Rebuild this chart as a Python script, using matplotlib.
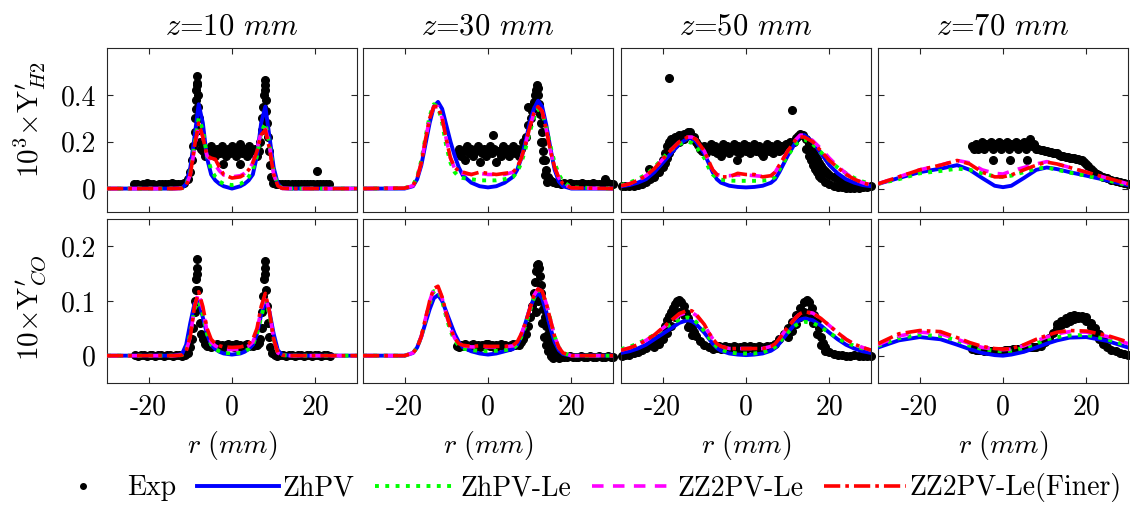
import matplotlib
matplotlib.use("Agg")
import matplotlib.pyplot as plt
from matplotlib.lines import Line2D

plt.rcParams['font.family'] = 'serif'
plt.rcParams['font.serif'] = ['cmr10']
plt.rcParams['mathtext.fontset'] = 'cm'
plt.rcParams['axes.unicode_minus'] = False

# radial grids used by the model curves (mm)
r_z10 = [-30, -14, -12, -11, -10, -9, -8, -7, -6, -5, -4, -3, -2, 0, 2, 3, 4, 5, 6, 7, 8, 9, 10, 11, 12, 14, 30]
r_z30 = [-30, -20, -18, -17, -16, -15, -14, -13, -12, -11, -10, -9, -8, -7, -6, -4, -2, 0, 2, 4, 6, 7, 8, 9, 10,
         11, 12, 13, 14, 15, 16, 17, 18, 20, 30]
r_z50 = [-30, -28, -26, -24, -22, -20, -18, -16, -14, -13, -12, -10, -9, -8, -7, -6, -4, -2, 0, 2, 4, 6, 7, 8, 10,
         12, 13, 14, 16, 18, 20, 22, 24, 26, 28, 30]
r_z70 = [-30, -25, -20, -15, -11, -8, -5, -2, 0, 2, 5, 8, 10.5, 13, 16, 20, 25, 30]

# 10^3 x Y'_H2
h2_z10_zhpv = [0, 0, 0.002, 0.02, 0.09, 0.22, 0.36, 0.28, 0.13, 0.06, 0.035, 0.02, 0.01, 0.0, 0.01, 0.02, 0.035, 0.06,
               0.14, 0.28, 0.35, 0.22, 0.09, 0.02, 0.002, 0, 0]
h2_z10_zhpvle = [0, 0, 0.002, 0.015, 0.07, 0.19, 0.30, 0.25, 0.14, 0.08, 0.05, 0.03, 0.02, 0.015, 0.02, 0.03, 0.05,
                 0.08, 0.14, 0.24, 0.28, 0.19, 0.07, 0.015, 0.002, 0, 0]
h2_z10_zz2 = [0, 0, 0.001, 0.012, 0.06, 0.17, 0.27, 0.22, 0.14, 0.12, 0.10, 0.075, 0.058, 0.05, 0.055, 0.065, 0.08,
              0.11, 0.17, 0.24, 0.26, 0.18, 0.06, 0.012, 0.001, 0, 0]
h2_z10_zz2f = [0, 0, 0.001, 0.012, 0.06, 0.18, 0.28, 0.22, 0.14, 0.13, 0.125, 0.09, 0.06, 0.045, 0.05, 0.06, 0.08,
               0.11, 0.16, 0.23, 0.25, 0.17, 0.06, 0.012, 0.001, 0, 0]

h2_z30_zhpv = [0, 0, 0.01, 0.04, 0.10, 0.19, 0.28, 0.35, 0.37, 0.34, 0.27, 0.20, 0.14, 0.09, 0.055, 0.025, 0.01, 0.005,
               0.01, 0.025, 0.05, 0.08, 0.13, 0.20, 0.28, 0.34, 0.375, 0.35, 0.27, 0.17, 0.08, 0.03, 0.01, 0, 0]
h2_z30_zhpvle = [0, 0.002, 0.015, 0.05, 0.12, 0.22, 0.31, 0.36, 0.35, 0.28, 0.18, 0.11, 0.07, 0.05, 0.045, 0.04, 0.035,
                 0.035, 0.035, 0.04, 0.05, 0.07, 0.11, 0.17, 0.24, 0.30, 0.34, 0.32, 0.26, 0.18, 0.11, 0.06, 0.03,
                 0.005, 0]
h2_z30_zz2 = [0, 0.002, 0.012, 0.045, 0.11, 0.21, 0.30, 0.35, 0.35, 0.30, 0.21, 0.13, 0.085, 0.07, 0.065, 0.06, 0.065,
              0.06, 0.06, 0.06, 0.07, 0.09, 0.13, 0.19, 0.26, 0.32, 0.35, 0.33, 0.25, 0.16, 0.09, 0.045, 0.02, 0.003, 0]
h2_z30_zz2f = [0, 0.002, 0.012, 0.045, 0.11, 0.21, 0.30, 0.35, 0.35, 0.30, 0.21, 0.13, 0.09, 0.075, 0.07, 0.06, 0.07,
               0.065, 0.06, 0.065, 0.07, 0.09, 0.13, 0.19, 0.26, 0.32, 0.35, 0.33, 0.25, 0.16, 0.09, 0.045, 0.02,
               0.003, 0]

h2_z50_zhpv = [0.01, 0.015, 0.025, 0.04, 0.07, 0.11, 0.15, 0.19, 0.214, 0.214, 0.2, 0.15, 0.11, 0.07, 0.04, 0.025,
               0.012, 0.007, 0.005, 0.007, 0.012, 0.025, 0.04, 0.07, 0.14, 0.2, 0.225, 0.228, 0.2, 0.15, 0.1, 0.065,
               0.04, 0.025, 0.015, 0.01]
h2_z50_zhpvle = [0.015, 0.025, 0.04, 0.06, 0.09, 0.13, 0.165, 0.19, 0.2, 0.195, 0.18, 0.13, 0.09, 0.06, 0.045, 0.038,
                 0.034, 0.033, 0.033, 0.033, 0.034, 0.038, 0.05, 0.08, 0.14, 0.19, 0.205, 0.21, 0.19, 0.155, 0.12,
                 0.09, 0.065, 0.045, 0.03, 0.02]
h2_z50_zz2 = [0.012, 0.02, 0.035, 0.055, 0.085, 0.125, 0.165, 0.2, 0.22, 0.22, 0.21, 0.16, 0.12, 0.08, 0.06, 0.055,
              0.055, 0.058, 0.058, 0.055, 0.052, 0.055, 0.07, 0.1, 0.16, 0.21, 0.228, 0.228, 0.205, 0.17, 0.13, 0.095,
              0.065, 0.04, 0.025, 0.015]
h2_z50_zz2f = [0.012, 0.02, 0.035, 0.055, 0.085, 0.125, 0.165, 0.2, 0.22, 0.22, 0.21, 0.16, 0.12, 0.08, 0.06, 0.05,
               0.05, 0.065, 0.06, 0.06, 0.05, 0.055, 0.07, 0.1, 0.16, 0.21, 0.22, 0.22, 0.2, 0.16, 0.12, 0.09, 0.06,
               0.04, 0.025, 0.015]

h2_z70_zhpv = [0.02, 0.045, 0.07, 0.085, 0.1, 0.08, 0.045, 0.012, 0.006, 0.012, 0.045, 0.08, 0.09, 0.083, 0.07, 0.055,
               0.035, 0.015]
h2_z70_zhpvle = [0.02, 0.04, 0.065, 0.075, 0.085, 0.08, 0.065, 0.052, 0.05, 0.055, 0.07, 0.085, 0.09, 0.08, 0.068,
                 0.055, 0.035, 0.015]
h2_z70_zz2 = [0.02, 0.05, 0.08, 0.1, 0.12, 0.11, 0.08, 0.065, 0.062, 0.075, 0.09, 0.105, 0.115, 0.105, 0.09, 0.07,
              0.045, 0.02]
h2_z70_zz2f = [0.02, 0.05, 0.08, 0.1, 0.12, 0.105, 0.07, 0.05, 0.05, 0.058, 0.08, 0.1, 0.113, 0.105, 0.09, 0.07,
               0.045, 0.02]

# 10 x Y'_CO
co_z10_zhpv = [0, 0, 0.003, 0.02, 0.06, 0.095, 0.10, 0.07, 0.04, 0.02, 0.012, 0.007, 0.004, 0.002, 0.004, 0.007,
               0.012, 0.02, 0.04, 0.075, 0.10, 0.08, 0.04, 0.01, 0.002, 0, 0]
co_z10_zhpvle = [0, 0, 0.001, 0.01, 0.04, 0.085, 0.10, 0.075, 0.04, 0.02, 0.012, 0.008, 0.005, 0.004, 0.005, 0.008,
                 0.012, 0.02, 0.04, 0.07, 0.10, 0.075, 0.03, 0.005, 0.001, 0, 0]
co_z10_zz2 = [0, 0, 0.001, 0.008, 0.035, 0.09, 0.115, 0.085, 0.045, 0.025, 0.018, 0.014, 0.012, 0.011, 0.012, 0.014,
              0.018, 0.025, 0.045, 0.085, 0.11, 0.08, 0.03, 0.005, 0.001, 0, 0]
co_z10_zz2f = [0, 0, 0.001, 0.008, 0.035, 0.09, 0.117, 0.09, 0.05, 0.03, 0.022, 0.018, 0.016, 0.015, 0.016, 0.018,
               0.022, 0.03, 0.05, 0.09, 0.114, 0.08, 0.03, 0.005, 0.001, 0, 0]

co_z30_zhpv = [0, 0, 0.005, 0.015, 0.035, 0.06, 0.085, 0.105, 0.111, 0.10, 0.08, 0.06, 0.04, 0.025, 0.015, 0.008,
               0.004, 0.002, 0.004, 0.008, 0.012, 0.02, 0.035, 0.06, 0.085, 0.105, 0.115, 0.105, 0.08, 0.05, 0.025,
               0.01, 0.003, 0, 0]
co_z30_zhpvle = [0, 0, 0.005, 0.015, 0.035, 0.065, 0.095, 0.118, 0.12, 0.10, 0.07, 0.045, 0.028, 0.018, 0.013, 0.01,
                 0.009, 0.008, 0.009, 0.01, 0.013, 0.02, 0.035, 0.055, 0.08, 0.105, 0.12, 0.115, 0.095, 0.065, 0.035,
                 0.015, 0.005, 0, 0]
co_z30_zz2 = [0, 0, 0.005, 0.015, 0.035, 0.068, 0.1, 0.122, 0.125, 0.105, 0.075, 0.05, 0.032, 0.022, 0.018, 0.016,
              0.016, 0.016, 0.016, 0.016, 0.018, 0.024, 0.04, 0.06, 0.085, 0.11, 0.122, 0.118, 0.095, 0.065, 0.035,
              0.015, 0.005, 0, 0]
co_z30_zz2f = [0, 0, 0.005, 0.015, 0.035, 0.068, 0.1, 0.123, 0.127, 0.107, 0.077, 0.05, 0.032, 0.022, 0.019, 0.017,
               0.018, 0.017, 0.017, 0.017, 0.019, 0.025, 0.04, 0.06, 0.085, 0.11, 0.122, 0.118, 0.095, 0.065, 0.035,
               0.015, 0.005, 0, 0]

co_z50_zhpv = [0.005, 0.008, 0.013, 0.02, 0.03, 0.04, 0.05, 0.06, 0.065, 0.063, 0.058, 0.042, 0.032, 0.022, 0.014,
               0.009, 0.004, 0.002, 0.001, 0.002, 0.004, 0.009, 0.014, 0.022, 0.042, 0.06, 0.066, 0.068, 0.065, 0.055,
               0.042, 0.03, 0.02, 0.013, 0.008, 0.005]
co_z50_zhpvle = [0.012, 0.016, 0.022, 0.03, 0.038, 0.048, 0.058, 0.066, 0.07, 0.068, 0.062, 0.045, 0.034, 0.024,
                 0.016, 0.011, 0.006, 0.004, 0.004, 0.004, 0.006, 0.011, 0.016, 0.024, 0.042, 0.056, 0.06, 0.062,
                 0.06, 0.052, 0.042, 0.032, 0.024, 0.018, 0.013, 0.01]
co_z50_zz2 = [0.01, 0.014, 0.02, 0.028, 0.038, 0.05, 0.062, 0.074, 0.08, 0.079, 0.074, 0.056, 0.043, 0.031, 0.022,
              0.017, 0.013, 0.013, 0.013, 0.013, 0.013, 0.017, 0.022, 0.031, 0.052, 0.07, 0.077, 0.08, 0.078, 0.068,
              0.055, 0.042, 0.03, 0.021, 0.015, 0.01]
co_z50_zz2f = [0.01, 0.014, 0.02, 0.028, 0.038, 0.051, 0.064, 0.077, 0.083, 0.082, 0.076, 0.057, 0.043, 0.031, 0.022,
               0.017, 0.013, 0.013, 0.013, 0.013, 0.013, 0.017, 0.022, 0.031, 0.052, 0.07, 0.077, 0.08, 0.078, 0.068,
               0.055, 0.042, 0.03, 0.021, 0.015, 0.01]

co_z70_zhpv = [0.015, 0.028, 0.034, 0.03, 0.02, 0.012, 0.005, 0.001, 0.0, 0.002, 0.007, 0.015, 0.022, 0.028, 0.033,
               0.034, 0.027, 0.015]
co_z70_zhpvle = [0.018, 0.032, 0.038, 0.036, 0.028, 0.018, 0.012, 0.009, 0.008, 0.009, 0.014, 0.022, 0.03, 0.034,
                 0.037, 0.038, 0.03, 0.018]
co_z70_zz2 = [0.02, 0.036, 0.043, 0.04, 0.03, 0.022, 0.015, 0.012, 0.011, 0.012, 0.018, 0.027, 0.034, 0.04, 0.044,
              0.043, 0.035, 0.022]
co_z70_zz2f = [0.022, 0.04, 0.046, 0.044, 0.033, 0.024, 0.017, 0.013, 0.012, 0.013, 0.02, 0.03, 0.037, 0.043, 0.046,
               0.045, 0.037, 0.025]

# measurements, (r, value)
exp_h2_z10 = [
    (-23.5, 0.018), (-22.8, 0.02), (-22.0, 0.016), (-21.3, 0.02), (-20.5, 0.022), (-19.8, 0.018), (-19.0, 0.02),
    (-18.3, 0.017), (-17.5, 0.021), (-16.8, 0.019), (-16.0, 0.02), (-15.3, 0.018), (-14.5, 0.022), (-13.8, 0.02),
    (-13.0, 0.019), (-12.3, 0.021), (-11.6, 0.025), (-10.5, 0.04), (-10.0, 0.07), (-9.6, 0.12), (-9.3, 0.18),
    (-9.0, 0.24), (-8.8, 0.3), (-8.7, 0.34), (-8.6, 0.38), (-8.6, 0.42), (-8.5, 0.45), (-8.5, 0.48), (-8.3, 0.44),
    (-8.2, 0.4), (-8.1, 0.35), (-8.0, 0.3), (-7.9, 0.25), (-7.7, 0.2), (-7.4, 0.17),
    (-7.0, 0.16), (-6.5, 0.14), (-6.0, 0.17), (-5.5, 0.15), (-5.0, 0.18), (-4.5, 0.16), (-4.0, 0.14), (-3.5, 0.17),
    (-3.0, 0.15), (-2.5, 0.18), (-2.0, 0.16), (-1.5, 0.14), (-1.0, 0.17), (-0.5, 0.15), (0.0, 0.18), (0.5, 0.16),
    (1.0, 0.14), (1.5, 0.17), (2.0, 0.19), (2.5, 0.15), (3.0, 0.17), (3.5, 0.14), (4.0, 0.18), (4.5, 0.16),
    (5.0, 0.15), (5.5, 0.17), (6.0, 0.14), (6.5, 0.16), (-2.1, 0.107), (1.9, 0.107),
    (6.8, 0.2), (7.1, 0.25), (7.3, 0.3), (7.5, 0.35), (7.7, 0.4), (7.8, 0.44), (7.9, 0.465), (8.0, 0.42),
    (8.1, 0.38), (8.2, 0.33), (8.4, 0.28), (8.6, 0.22), (8.8, 0.16), (9.0, 0.1), (9.3, 0.05),
    (9.8, 0.022), (10.5, 0.02), (11.3, 0.018), (12.0, 0.021), (12.8, 0.019), (13.5, 0.02), (14.3, 0.018),
    (15.0, 0.021), (15.8, 0.02), (16.5, 0.019), (17.3, 0.02), (18.0, 0.018), (18.8, 0.021), (19.5, 0.02),
    (20.3, 0.019), (21.0, 0.02), (21.8, 0.018), (22.5, 0.02), (23.3, 0.019), (20.4, 0.073),
]
exp_h2_z30 = [
    (-7.5, 0.15), (-7.0, 0.17), (-6.5, 0.14), (-6.0, 0.16), (-5.5, 0.12), (-5.0, 0.18), (-4.5, 0.15), (-4.0, 0.17),
    (-3.5, 0.14), (-3.0, 0.16), (-2.5, 0.18), (-2.0, 0.113), (-1.5, 0.15), (-1.0, 0.17), (-0.5, 0.14), (0.0, 0.16),
    (0.5, 0.18), (1.0, 0.15), (1.2, 0.228), (1.5, 0.17), (2.0, 0.113), (2.5, 0.16), (3.0, 0.14), (3.5, 0.18),
    (4.0, 0.15), (4.5, 0.17), (5.0, 0.14), (5.5, 0.16), (6.0, 0.18), (6.5, 0.15), (7.0, 0.17), (7.5, 0.14),
    (8.0, 0.17), (8.5, 0.2), (9.0, 0.22), (9.5, 0.27), (9.7, 0.347), (10.2, 0.3), (10.6, 0.33), (11.0, 0.37),
    (11.3, 0.4), (11.5, 0.42), (11.7, 0.443), (11.9, 0.43), (12.1, 0.4), (12.3, 0.36), (12.5, 0.32), (12.7, 0.28),
    (12.9, 0.24), (13.1, 0.2), (13.3, 0.16), (13.6, 0.12), (14.0, 0.08), (14.4, 0.05), (14.9, 0.035),
    (15.5, 0.03), (16.2, 0.025), (12.8, 0.2), (13.2, 0.12), (13.6, 0.06), (14.2, 0.03),
    (16.9, 0.022), (17.6, 0.02), (18.3, 0.023), (19.0, 0.02), (19.7, 0.022), (20.4, 0.02), (21.1, 0.021),
    (21.8, 0.02), (22.5, 0.022), (23.2, 0.02), (23.9, 0.021), (24.6, 0.02), (25.3, 0.022), (26.0, 0.02),
    (26.7, 0.021), (27.4, 0.02), (28.0, 0.042), (28.8, 0.022), (29.5, 0.02), (30.0, 0.02),
]
exp_h2_z50 = [
    (-29.8, 0.013), (-29.0, 0.012), (-28.0, 0.01), (-27.0, 0.012), (-26.0, 0.015), (-25.0, 0.02), (-24.0, 0.03),
    (-23.2, 0.085), (-23.0, 0.04), (-22.0, 0.05), (-21.0, 0.07), (-20.5, 0.1), (-20.0, 0.12), (-19.5, 0.15),
    (-19.0, 0.18), (-18.5, 0.2), (-18.0, 0.21), (-17.0, 0.22), (-16.0, 0.23), (-15.0, 0.235), (-14.0, 0.24),
    (-13.4, 0.242), (-20.0, 0.09), (-19.5, 0.11), (-19.0, 0.13), (-18.5, 0.15), (-18.0, 0.17), (-17.0, 0.19),
    (-16.0, 0.2), (-15.0, 0.21), (-12.5, 0.22), (-12.0, 0.2), (-11.5, 0.185), (-11.0, 0.17), (-18.4, 0.472),
    (-10.5, 0.16), (-10.0, 0.18), (-9.5, 0.15), (-9.0, 0.17), (-8.5, 0.19), (-8.0, 0.16), (-7.5, 0.18),
    (-7.0, 0.15), (-6.5, 0.17), (-6.0, 0.14), (-5.5, 0.19), (-5.0, 0.16), (-4.5, 0.18), (-4.0, 0.15),
    (-3.5, 0.17), (-3.0, 0.19), (-2.5, 0.16), (-2.2, 0.12), (-2.0, 0.18), (-1.5, 0.15), (-1.0, 0.17),
    (-0.5, 0.19), (0.0, 0.16), (0.5, 0.18), (1.0, 0.15), (1.5, 0.17), (2.0, 0.19), (2.5, 0.16), (3.0, 0.18),
    (3.5, 0.15), (4.0, 0.14), (4.5, 0.17), (5.0, 0.19), (5.5, 0.16), (6.0, 0.18), (6.5, 0.15), (7.0, 0.17),
    (7.5, 0.19), (8.0, 0.16), (8.5, 0.18), (9.0, 0.17), (9.5, 0.19), (10.0, 0.18), (10.5, 0.2), (11.1, 0.335),
    (11.5, 0.2), (12.0, 0.215), (12.5, 0.225), (13.0, 0.235), (13.7, 0.23), (14.5, 0.21), (15.0, 0.19),
    (15.5, 0.17), (16.0, 0.155), (16.5, 0.14), (17.0, 0.125), (17.5, 0.11), (18.0, 0.095), (18.5, 0.085),
    (19.0, 0.075), (19.5, 0.065), (20.0, 0.06), (21.0, 0.05), (22.0, 0.04), (23.0, 0.03), (24.0, 0.02),
    (25.0, 0.012), (26.0, 0.008), (27.0, 0.006), (28.0, 0.005), (29.0, 0.008), (30.0, 0.01),
    (14.5, 0.17), (15.0, 0.14), (15.5, 0.12), (16.0, 0.1), (16.5, 0.085), (17.0, 0.07), (17.5, 0.055),
    (18.0, 0.045), (19.0, 0.03), (20.0, 0.02), (21.0, 0.012), (22.0, 0.008), (23.0, 0.005), (24.0, 0.003),
    (25.0, 0.002), (26.0, 0.002), (27.0, 0.001),
]
exp_h2_z70 = [
    (-7.5, 0.18), (-7.0, 0.17), (-6.5, 0.19), (-6.0, 0.17), (-5.5, 0.18), (-5.0, 0.2), (-4.5, 0.17), (-4.0, 0.19),
    (-3.5, 0.18), (-3.0, 0.2), (-2.5, 0.17), (-2.3, 0.12), (-2.0, 0.19), (-1.5, 0.18), (-1.0, 0.2), (-0.5, 0.17),
    (0.0, 0.19), (0.5, 0.18), (1.0, 0.2), (1.5, 0.17), (1.7, 0.12), (2.0, 0.19), (2.5, 0.18), (3.0, 0.2),
    (3.5, 0.17), (4.0, 0.19), (4.5, 0.18), (5.0, 0.2), (5.5, 0.17), (5.7, 0.12), (6.0, 0.19), (6.5, 0.21),
    (7.0, 0.18), (7.5, 0.19), (8.0, 0.17), (8.5, 0.17), (9.0, 0.165), (9.5, 0.165), (10.0, 0.16), (10.5, 0.16),
    (11.0, 0.155), (11.5, 0.155), (12.0, 0.15), (12.5, 0.15), (13.0, 0.15), (13.5, 0.145), (14.0, 0.14),
    (14.5, 0.14), (15.0, 0.135), (15.5, 0.135), (16.0, 0.13), (16.5, 0.13), (17.0, 0.13), (17.5, 0.125),
    (18.0, 0.125), (18.5, 0.12), (19.0, 0.12), (19.5, 0.115), (20.0, 0.105), (20.5, 0.095), (21.0, 0.085),
    (21.5, 0.075), (22.0, 0.068), (22.5, 0.062), (23.0, 0.058), (24.0, 0.05), (25.0, 0.045), (26.0, 0.038),
    (27.0, 0.033), (28.0, 0.028), (29.0, 0.024), (30.0, 0.02),
]

exp_co_z10 = [
    (-23.3, 0.001), (-22.6, 0.0), (-21.9, 0.002), (-21.2, 0.001), (-20.5, 0.0), (-19.8, 0.002), (-19.1, 0.001),
    (-18.4, 0.0), (-17.7, 0.002), (-17.0, 0.001), (-16.3, 0.0), (-15.6, 0.002), (-14.9, 0.001), (-14.2, 0.0),
    (-13.5, 0.002), (-12.8, 0.001), (-12.1, 0.0), (-11.4, 0.002), (-10.5, 0.005), (-10.0, 0.015), (-9.6, 0.03),
    (-9.3, 0.05), (-9.0, 0.08), (-8.8, 0.1), (-8.7, 0.12), (-8.6, 0.14), (-8.5, 0.16), (-8.5, 0.176),
    (-8.3, 0.15), (-8.2, 0.12), (-8.0, 0.09), (-7.8, 0.06), (-7.5, 0.04), (-7.0, 0.03),
    (-6.5, 0.022), (-6.0, 0.018), (-5.5, 0.02), (-5.0, 0.016), (-4.5, 0.02), (-4.0, 0.018), (-3.5, 0.021),
    (-3.0, 0.017), (-2.5, 0.02), (-2.0, 0.016), (-1.5, 0.019), (-1.0, 0.022), (-0.5, 0.017), (0.0, 0.02),
    (0.5, 0.016), (1.0, 0.021), (1.5, 0.018), (2.0, 0.02), (2.5, 0.016), (3.0, 0.019), (3.5, 0.021), (4.0, 0.017),
    (4.5, 0.02), (5.0, 0.018), (5.5, 0.022), (6.0, 0.019), (6.5, 0.024),
    (6.8, 0.03), (7.1, 0.05), (7.3, 0.08), (7.5, 0.11), (7.7, 0.14), (7.8, 0.16), (7.9, 0.173), (8.0, 0.15),
    (8.2, 0.12), (8.4, 0.09), (8.6, 0.06), (8.8, 0.035), (9.1, 0.015), (9.5, 0.005),
    (10.2, 0.001), (10.9, 0.0), (11.6, 0.002), (12.3, 0.001), (13.0, 0.0), (13.7, 0.002), (14.4, 0.001),
    (15.1, 0.0), (15.8, 0.002), (16.5, 0.001), (17.2, 0.0), (17.9, 0.002), (18.6, 0.001), (19.3, 0.0),
    (20.0, 0.002), (20.7, 0.001), (21.4, 0.0), (22.1, 0.002), (22.8, 0.001), (23.5, 0.0),
]
exp_co_z30 = [
    (-7.5, 0.018), (-7.0, 0.016), (-6.5, 0.02), (-6.0, 0.017), (-5.5, 0.021), (-5.0, 0.018), (-4.5, 0.016),
    (-4.0, 0.02), (-3.5, 0.022), (-3.0, 0.017), (-2.5, 0.019), (-2.0, 0.016), (-1.5, 0.02), (-1.0, 0.018),
    (-0.5, 0.021), (0.0, 0.022), (0.5, 0.017), (1.0, 0.019), (1.5, 0.016), (2.0, 0.02), (2.5, 0.018),
    (3.0, 0.021), (3.5, 0.017), (4.0, 0.02), (4.5, 0.018), (5.0, 0.016), (5.5, 0.02), (6.0, 0.022),
    (6.5, 0.019), (7.0, 0.021), (7.5, 0.02),
    (8.0, 0.025), (8.5, 0.03), (9.0, 0.04), (9.5, 0.055), (10.0, 0.07), (10.5, 0.09), (11.0, 0.115),
    (11.3, 0.135), (11.6, 0.155), (11.8, 0.165), (12.0, 0.167), (12.2, 0.16), (12.4, 0.145), (12.6, 0.13),
    (12.8, 0.115), (13.0, 0.1), (13.3, 0.085), (13.6, 0.07), (14.0, 0.055), (14.5, 0.04), (15.0, 0.028),
    (15.5, 0.018), (16.0, 0.008), (16.5, 0.0), (17.0, -0.004), (11.5, 0.08), (12.0, 0.1), (12.5, 0.11),
    (13.0, 0.06), (13.5, 0.035), (14.0, 0.02), (14.5, 0.008), (15.0, 0.0), (15.5, -0.004),
    (17.5, -0.003), (18.2, -0.002), (18.9, -0.003), (19.6, -0.001), (20.3, -0.003), (21.0, -0.002),
    (21.7, -0.003), (22.4, -0.001), (23.1, -0.002), (23.8, -0.003), (24.5, -0.001), (25.2, -0.002),
    (25.9, -0.003), (26.6, -0.001), (27.3, -0.002), (28.0, -0.002), (28.7, -0.001), (29.4, -0.002),
    (30.0, -0.002),
]
exp_co_z50 = [
    (-29.8, 0.0), (-29.0, 0.001), (-28.0, 0.002), (-27.0, 0.004), (-26.0, 0.006), (-25.0, 0.01), (-24.0, 0.014),
    (-23.0, 0.02), (-22.0, 0.026), (-21.0, 0.032), (-20.0, 0.045), (-19.5, 0.055), (-19.0, 0.065),
    (-18.5, 0.072), (-18.0, 0.08), (-17.5, 0.088), (-17.0, 0.095), (-16.5, 0.1), (-16.0, 0.102), (-15.5, 0.098),
    (-15.0, 0.09), (-14.5, 0.078), (-14.0, 0.068), (-13.5, 0.058), (-13.0, 0.05), (-12.5, 0.043),
    (-12.0, 0.036), (-11.0, 0.027), (-10.0, 0.02), (-9.0, 0.016),
    (-22.0, 0.015), (-21.0, 0.022), (-20.0, 0.03), (-19.0, 0.042), (-18.0, 0.055), (-17.0, 0.07),
    (-16.0, 0.08), (-15.0, 0.075), (-14.0, 0.052), (-13.0, 0.038),
    (-8.5, 0.015), (-8.0, 0.013), (-7.5, 0.016), (-7.0, 0.014), (-6.5, 0.017), (-6.0, 0.013), (-5.5, 0.015),
    (-5.0, 0.018), (-4.5, 0.014), (-4.0, 0.016), (-3.5, 0.013), (-3.0, 0.017), (-2.5, 0.015), (-2.0, 0.012),
    (-1.5, 0.016), (-1.0, 0.014), (-0.5, 0.017), (0.0, 0.013), (0.5, 0.015), (1.0, 0.018), (1.5, 0.014),
    (2.0, 0.016), (2.5, 0.013), (3.0, 0.017), (3.5, 0.015), (4.0, 0.014), (4.5, 0.016), (5.0, 0.018),
    (5.5, 0.015),
    (6.0, 0.018), (7.0, 0.022), (8.0, 0.03), (9.0, 0.04), (10.0, 0.05), (11.0, 0.062), (12.0, 0.075),
    (13.0, 0.088), (14.0, 0.098), (14.6, 0.102), (15.2, 0.098), (15.8, 0.088), (16.4, 0.075), (17.0, 0.065),
    (17.5, 0.05), (18.0, 0.035), (18.5, 0.024), (19.0, 0.015), (19.5, 0.009), (20.0, 0.006), (21.0, 0.003),
    (22.0, 0.002), (23.0, 0.001), (24.0, 0.0), (25.0, 0.0), (26.0, 0.001), (27.0, 0.0), (28.0, -0.001),
    (29.0, 0.0), (30.0, 0.0),
    (10.0, 0.035), (11.0, 0.045), (12.0, 0.058), (13.0, 0.07), (14.0, 0.08), (15.0, 0.078), (16.0, 0.06),
    (17.0, 0.04), (18.0, 0.02), (19.0, 0.008),
]
exp_co_z70 = [
    (-7.5, 0.012), (-7.0, 0.012), (-6.5, 0.011), (-6.0, 0.01), (-5.5, 0.011), (-5.0, 0.01), (-4.5, 0.009),
    (-4.0, 0.01), (-3.5, 0.009), (-3.0, 0.008), (-2.5, 0.009), (-2.0, 0.008), (-1.5, 0.009), (-1.0, 0.008),
    (-0.5, 0.009), (0.0, 0.009), (0.5, 0.01), (1.0, 0.01), (1.5, 0.011), (2.0, 0.011), (2.5, 0.012),
    (3.0, 0.012), (3.5, 0.013), (4.0, 0.013), (4.5, 0.014), (5.0, 0.014), (5.5, 0.015), (6.0, 0.015),
    (6.5, 0.016), (7.0, 0.016), (7.5, 0.016), (8.0, 0.016), (9.0, 0.018), (10.0, 0.025), (11.0, 0.032),
    (12.0, 0.042), (13.0, 0.05), (14.0, 0.056), (15.0, 0.06), (16.0, 0.064), (17.0, 0.067), (18.0, 0.068),
    (19.0, 0.069), (20.0, 0.064), (21.0, 0.052), (22.0, 0.04), (23.0, 0.03), (24.0, 0.022), (25.0, 0.016),
    (26.0, 0.011), (27.0, 0.008), (28.0, 0.005), (29.0, 0.003), (30.0, 0.002),
    (13.0, 0.058), (14.0, 0.064), (15.0, 0.068), (16.0, 0.072), (17.0, 0.074), (18.0, 0.073), (19.0, 0.072),
    (20.0, 0.07), (21.0, 0.06), (22.0, 0.05), (23.0, 0.04), (24.0, 0.03),
]

z_labels = ['10', '30', '50', '70']
model_names = ['ZhPV', 'ZhPV-Le', 'ZZ2PV-Le', 'ZZ2PV-Le(Finer)']
model_styles = [
    dict(color='#0000ff', ls='-', lw=2.8),
    dict(color='#00ff00', ls=':', lw=2.8),
    dict(color='#ff00ff', ls=(0, (3.2, 2.6)), lw=2.6),
    dict(color='#ff0000', ls=(0, (4.5, 1.4, 1.0, 1.4)), lw=2.6),
]


def draw_panel(ax, r, models, exp):
    er, ev = zip(*exp)
    ax.plot(er, ev, 'o', color='black', ms=5.5, ls='none', clip_on=False, zorder=2)
    for vals, style in zip(models, model_styles):
        ax.plot(r, vals, zorder=3, **style)


fig = plt.figure(figsize=(11.3, 5.05), dpi=100)

lefts = [107, 363, 621, 878]
row_bottoms = [212, 383]
W, H = 1130.0, 505.0

grids = [r_z10, r_z30, r_z50, r_z70]
h2_models = [
    [h2_z10_zhpv, h2_z10_zhpvle, h2_z10_zz2, h2_z10_zz2f],
    [h2_z30_zhpv, h2_z30_zhpvle, h2_z30_zz2, h2_z30_zz2f],
    [h2_z50_zhpv, h2_z50_zhpvle, h2_z50_zz2, h2_z50_zz2f],
    [h2_z70_zhpv, h2_z70_zhpvle, h2_z70_zz2, h2_z70_zz2f],
]
co_models = [
    [co_z10_zhpv, co_z10_zhpvle, co_z10_zz2, co_z10_zz2f],
    [co_z30_zhpv, co_z30_zhpvle, co_z30_zz2, co_z30_zz2f],
    [co_z50_zhpv, co_z50_zhpvle, co_z50_zz2, co_z50_zz2f],
    [co_z70_zhpv, co_z70_zhpvle, co_z70_zz2, co_z70_zz2f],
]
h2_exp = [exp_h2_z10, exp_h2_z30, exp_h2_z50, exp_h2_z70]
co_exp = [exp_co_z10, exp_co_z30, exp_co_z50, exp_co_z70]

for row in range(2):
    for col in range(4):
        ax = fig.add_axes([lefts[col] / W, (H - row_bottoms[row]) / H, 250 / W, 164 / H])
        if row == 0:
            draw_panel(ax, grids[col], h2_models[col], h2_exp[col])
            ax.set_ylim(-0.1, 0.6)
            ax.set_yticks([0, 0.2, 0.4])
            ax.set_yticklabels(['0', '0.2', '0.4'])
            ax.set_title('$z$=' + z_labels[col] + r' $mm$', fontsize=22, pad=10)
        else:
            draw_panel(ax, grids[col], co_models[col], co_exp[col])
            ax.set_ylim(-0.05, 0.25)
            ax.set_yticks([0, 0.1, 0.2])
            ax.set_yticklabels(['0', '0.1', '0.2'])
        ax.set_xlim(-30, 30)
        ax.set_xticks([-20, 0, 20])
        ax.set_xticklabels(['-20', '0', '20'])
        ax.tick_params(direction='in', top=True, right=True, length=4, width=0.8,
                       labelsize=20, colors='#262626', labelcolor='black', pad=8)
        for sp in ax.spines.values():
            sp.set_linewidth(0.8)
            sp.set_color('#262626')
        if col > 0:
            ax.tick_params(labelleft=False)
        if row == 0:
            ax.tick_params(labelbottom=False)
        else:
            ax.set_xlabel(r'$r\ (mm)$', fontsize=20, labelpad=6)
        if col == 0:
            if row == 0:
                ax.set_ylabel(r"$10^3{\times}\mathrm{Y}^{\prime}_{H2}$", fontsize=21)
                ax.yaxis.set_label_coords(-0.235, 0.56)
            else:
                ax.set_ylabel(r"$10{\times}\mathrm{Y}^{\prime}_{CO}$", fontsize=21)
                ax.yaxis.set_label_coords(-0.235, 0.46)

handles = [Line2D([], [], color='black', marker='o', ms=4, ls='none')]
handles += [Line2D([], [], **s) for s in model_styles]
fig.legend(handles, ['Exp'] + model_names, loc='center', bbox_to_anchor=(0.515, 0.034), ncol=5,
           frameon=False, fontsize=20, handlelength=2.95, handletextpad=0.12, columnspacing=0.75)

fig.savefig('out.png', dpi=100)
